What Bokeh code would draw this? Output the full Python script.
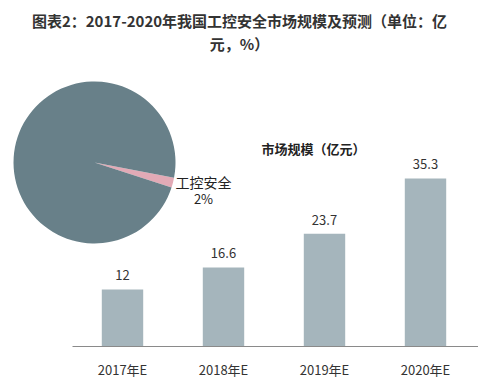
import math
from bokeh.plotting import figure
from bokeh.models import Range1d, FixedTicker, Label, ColumnDataSource
from bokeh.core.properties import value
from bokeh.embed import file_html
from bokeh.resources import INLINE

# ---- data ----
years = ["2017年E", "2018年E", "2019年E", "2020年E"]
market_size = [12, 16.6, 23.7, 35.3]
value_labels = ["12", "16.6", "23.7", "35.3"]
pie_labels = ["工控安全", "其他"]
pie_shares = [2, 98]

FONT = "Noto Sans CJK SC"

W, H = 478, 388
BASE = 346  # baseline pixel row
p = figure(width=W, height=H, output_backend="svg", toolbar_location=None,
           x_range=Range1d(-122 / 101, (W - 122) / 101), y_range=Range1d(0, BASE / 4.76),
           min_border_left=0, min_border_right=0, min_border_top=0,
           min_border_bottom=H - BASE)
p.outline_line_color = None
p.background_fill_color = "white"
p.border_fill_color = "white"
p.grid.visible = False
p.yaxis.visible = False

# extra pixel-like ranges for pie & annotations (y up)
p.extra_x_ranges = {"px": Range1d(0, W)}
p.extra_y_ranges = {"py": Range1d(H - BASE, H)}

# bars
xs = list(range(len(years)))
src = ColumnDataSource(dict(x=xs, top=market_size, lab=value_labels))
p.vbar(x="x", top="top", width=0.41, bottom=0, source=src,
       fill_color="#a5b5bc", line_color=None)
p.text(x="x", y="top", text="lab", source=src, text_align="center",
       text_baseline="bottom", y_offset=-9, text_font=value(FONT),
       text_font_size="13px", text_color="#333333")

ax = p.xaxis[0]
ax.ticker = FixedTicker(ticks=xs)
ax.major_label_overrides = {i: y for i, y in zip(xs, years)}
ax.major_tick_line_color = None
ax.major_tick_out = 0
ax.major_tick_in = 0
ax.minor_tick_line_color = None
ax.minor_tick_out = 0
ax.axis_line_color = "#8a8a8a"
ax.axis_line_width = 1
ax.bounds = ((72 - 122) / 101, (W - 122) / 101)
ax.major_label_standoff = 13
ax.major_label_text_font = FONT
ax.major_label_text_font_size = "13px"
ax.major_label_text_color = "#333333"

# pie
cx, cy = 94, H - 162
start0 = math.radians(-18)
total = sum(pie_shares)
starts, ends = [], []
acc = start0
for s in pie_shares:
    starts.append(acc)
    acc += 2 * math.pi * s / total
    ends.append(acc)
pie_src = ColumnDataSource(dict(x=[cx, cx], y=[cy, cy], s=starts, e=ends,
                                c=["#e2aab6", "#688089"]))
p.wedge(x="x", y="y", radius=81, radius_units="screen", start_angle="s", end_angle="e",
        fill_color="c", line_color=None, source=pie_src,
        x_range_name="px", y_range_name="py")

p.add_layout(Label(x=203, y=H - 181, text=pie_labels[0], text_align="center",
                   text_baseline="middle", text_font=FONT, text_font_size="14px",
                   text_color="#222222", x_range_name="px", y_range_name="py"))
p.add_layout(Label(x=203, y=H - 198, text=f"{pie_shares[0]}%", text_align="center",
                   text_baseline="middle", text_font=FONT, text_font_size="13px",
                   text_color="#222222", x_range_name="px", y_range_name="py"))

# subtitle for bar chart
p.add_layout(Label(x=313, y=H - 148, text="市场规模（亿元）", text_align="center",
                   text_baseline="middle", text_font=FONT, text_font_size="13px",
                   text_font_style="bold", text_color="#222222",
                   x_range_name="px", y_range_name="py"))

# title
p.add_layout(Label(x=239, y=H - 20, text="图表2：2017-2020年我国工控安全市场规模及预测（单位：亿",
                   text_align="center", text_baseline="middle", text_font=FONT,
                   text_font_size="15px", text_font_style="bold", text_color="#333333",
                   x_range_name="px", y_range_name="py"))
p.add_layout(Label(x=239, y=H - 43, text="元，%）",
                   text_align="center", text_baseline="middle", text_font=FONT,
                   text_font_size="15px", text_font_style="bold", text_color="#333333",
                   x_range_name="px", y_range_name="py"))

open("out.html", "w").write(file_html(p, INLINE))
